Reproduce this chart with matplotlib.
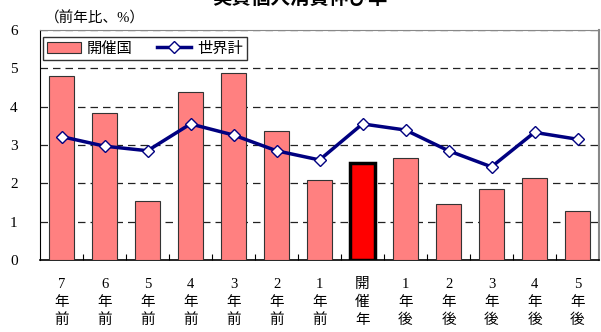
import matplotlib
matplotlib.use("Agg")
import matplotlib.pyplot as plt
from matplotlib.lines import Line2D
from matplotlib.patches import Patch

plt.rcParams['font.family'] = ['Liberation Serif', 'Noto Sans CJK JP']

categories = ["7\n年\n前", "6\n年\n前", "5\n年\n前", "4\n年\n前", "3\n年\n前", "2\n年\n前",
              "1\n年\n前", "開\n催\n年", "1\n年\n後", "2\n年\n後", "3\n年\n後", "4\n年\n後", "5\n年\n後"]
host_values = [4.80, 3.83, 1.54, 4.37, 4.87, 3.36, 2.10, 2.52, 2.65, 1.45, 1.84, 2.13, 1.29]
world_values = [3.22, 2.97, 2.85, 3.55, 3.26, 2.85, 2.61, 3.55, 3.39, 2.85, 2.43, 3.33, 3.15]
highlight_index = 7
yticks = [0, 1, 2, 3, 4, 5, 6]

fig = plt.figure(figsize=(6.01, 3.32), dpi=100)
ax = fig.add_axes([40/601, 1-260/332, 559/601, 230/332])

x = list(range(len(categories)))
colors = ['#FF8080'] * len(x)
edges = ['#333333'] * len(x)
lws = [0.8] * len(x)
colors[highlight_index] = '#FF0000'
edges[highlight_index] = '#000000'
lws[highlight_index] = 2.5
ax.bar(x, host_values, width=0.6, color=colors, edgecolor=edges, linewidth=lws, zorder=3)
ax.plot(x, world_values, color='#000080', linewidth=2.5, marker='D', markersize=6,
        markerfacecolor='white', markeredgecolor='#000080', markeredgewidth=1.0, zorder=4)

ax.set_xlim(-0.5, len(x) - 0.5)
ax.set_ylim(0, 6)
ax.set_yticks(yticks)
ax.set_yticklabels([str(v) for v in yticks], fontsize=11)
for v in yticks[1:]:
    ax.axhline(v, color='#222222', linestyle=(0, (6, 4)), linewidth=0.9, zorder=1)

ax.set_xticks(x)
ax.set_xticklabels(categories, fontsize=10.5, linespacing=1.45)
ax.set_xticks([i + 0.5 for i in x[:-1]], minor=True)
ax.tick_params(axis='x', which='major', length=0, pad=13)
ax.tick_params(axis='x', which='minor', direction='in', length=4, width=0.8)
ax.tick_params(axis='y', length=0, pad=16)

ax.spines['left'].set_color('#000000')
ax.spines['bottom'].set_color('#000000')
ax.spines['bottom'].set_linewidth(1.2)
ax.spines['top'].set_color('#888888')
ax.spines['right'].set_color('#888888')
ax.spines['right'].set_linewidth(1.5)

handles = [Patch(facecolor='#FF8080', edgecolor='#333333', linewidth=0.8),
           Line2D([0], [0], color='#000080', linewidth=2.5, marker='D', markersize=6,
                  markerfacecolor='white', markeredgecolor='#000080')]
leg = ax.legend(handles, ['開催国', '世界計'], loc='upper left', bbox_to_anchor=(0.005, 0.97),
                ncol=2, frameon=True, fancybox=False, edgecolor='#000000', fontsize=11,
                handlelength=2.2, handletextpad=0.4, columnspacing=1.6, borderpad=0.3,
                borderaxespad=0)
leg.get_frame().set_linewidth(1.0)
leg.set_zorder(5)

fig.text(45/601, 1-18/332, '（前年比、%）', fontsize=10.5, va='center', ha='left')
fig.text(300/601, 1.005, '実質個人消費伸び率', fontsize=14, fontweight='bold', va='center', ha='center')

fig.savefig('out.png', dpi=100)
